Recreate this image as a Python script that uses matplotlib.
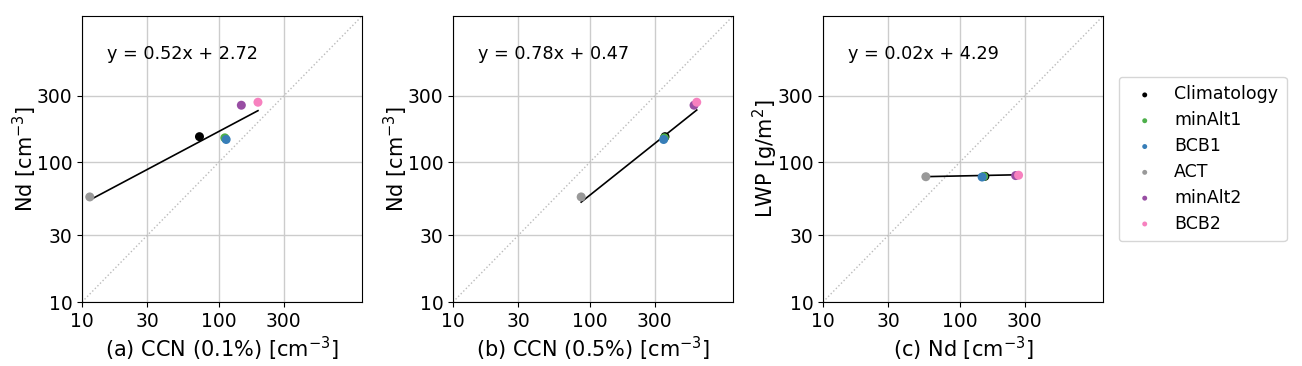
import numpy as np
import matplotlib
matplotlib.use("Agg")
import matplotlib.pyplot as plt

names = ["Climatology", "minAlt1", "BCB1", "ACT", "minAlt2", "BCB2"]
colors = ["#000000", "#4daf4a", "#377eb8", "#999999", "#984ea3", "#f781bf"]

ccn01 = [72.4, 111.0, 113.5, 11.4, 146.6, 194.0]
ccn05 = [356.0, 352.0, 348.0, 86.7, 581.0, 608.0]
nd = [153.0, 150.0, 146.0, 56.6, 257.0, 270.0]
lwp = [79.5, 79.3, 78.6, 79.0, 80.5, 81.0]

slopes = [0.52, 0.78, 0.02]
intercepts = [2.72, 0.47, 4.29]

xlabels = ["(a) CCN (0.1%) [cm$^{-3}$]", "(b) CCN (0.5%) [cm$^{-3}$]", "(c) Nd [cm$^{-3}$]"]
ylabels = ["Nd [cm$^{-3}$]", "Nd [cm$^{-3}$]", "LWP [g/m$^2$]"]
ticks = [10, 30, 100, 300]
lim = (10, 1120)

fig = plt.figure(figsize=(13.02, 3.66), dpi=100)
lefts = [82, 453, 823]
panels = [(ccn01, nd), (ccn05, nd), (nd, lwp)]
for i, (xs, ys) in enumerate(panels):
    ax = fig.add_axes([lefts[i] / 1302, 64 / 366, 280 / 1302, 286 / 366])
    ax.set_xscale("log")
    ax.set_yscale("log")
    ax.set_xlim(*lim)
    ax.set_ylim(*lim)
    ax.grid(True, color="#cccccc", linewidth=1)
    ax.set_axisbelow(True)
    ax.plot(lim, lim, linestyle=":", color="#bbbbbb", linewidth=1)
    for x, y, n, c in zip(xs, ys, names, colors):
        ax.scatter(x, y, s=42, color=c, label=n, zorder=3, edgecolors="none")
    xr = np.array([min(xs), max(xs)])
    yr = np.exp(slopes[i] * np.log(xr) + intercepts[i])
    ax.plot(xr, yr, color="black", linewidth=1.2, zorder=2)
    ax.text(0.09, 0.867, f"y = {slopes[i]:.2f}x + {intercepts[i]:.2f}",
            transform=ax.transAxes, fontsize=12.7, va="center")
    ax.set_xticks(ticks)
    ax.set_xticklabels([str(t) for t in ticks])
    ax.set_yticks(ticks)
    ax.set_yticklabels([str(t) for t in ticks])
    ax.minorticks_off()
    ax.tick_params(labelsize=13.5)
    ax.set_xlabel(xlabels[i], fontsize=15, labelpad=3)
    ax.set_ylabel(ylabels[i], fontsize=15, labelpad=-2)
    if i == 2:
        ax.legend(loc="center left", bbox_to_anchor=(1.025, 0.5), fontsize=12.5,
                  markerscale=0.55, handletextpad=0.7, borderpad=0.5,
                  labelspacing=0.45)

fig.savefig("out.png", dpi=100)
